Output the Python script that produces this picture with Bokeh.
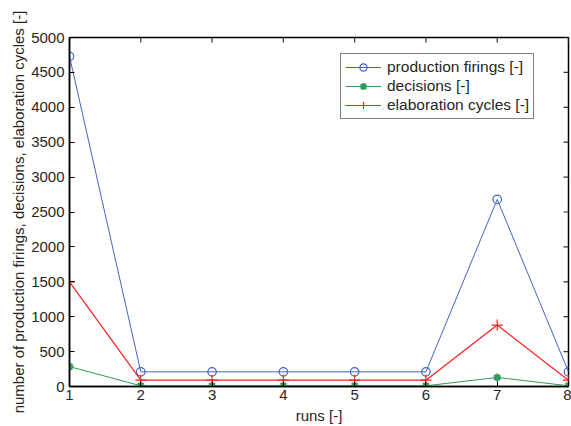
import math
from bokeh.plotting import figure
from bokeh.models import Range1d, Legend, LegendItem, FixedTicker
from bokeh.embed import file_html
from bokeh.resources import INLINE

runs = [1, 2, 3, 4, 5, 6, 7, 8]
production_firings = [4730, 210, 210, 210, 210, 210, 2680, 210]
decisions = [285, 10, 10, 10, 10, 10, 130, 10]
elaboration_cycles = [1500, 90, 90, 90, 90, 90, 880, 90]
y_ticks = [0, 500, 1000, 1500, 2000, 2500, 3000, 3500, 4000, 4500, 5000]

FONT = "Liberation Sans"
X_MIN, X_MAX = runs[0], runs[-1]
Y_MIN, Y_MAX = y_ticks[0], y_ticks[-1]

p = figure(width=571, height=426, output_backend="svg", toolbar_location=None,
           x_range=Range1d(X_MIN, X_MAX), y_range=Range1d(Y_MIN, Y_MAX),
           min_border_left=69, min_border_right=3, min_border_top=37, min_border_bottom=39)
p.grid.visible = False
p.outline_line_color = "black"
p.outline_line_width = 1.5
p.background_fill_color = "white"
p.border_fill_color = "white"

for ax in p.axis:
    ax.major_tick_in = 5
    ax.major_tick_out = 0
    ax.minor_tick_line_color = None
    ax.major_label_text_font = FONT
    ax.major_label_text_font_size = "15px"
    ax.major_label_text_color = "#262626"
    ax.axis_label_text_font = FONT
    ax.axis_label_text_font_size = "15px"
    ax.axis_label_text_font_style = "normal"
    ax.axis_label_text_color = "#262626"
    ax.axis_line_color = "black"
    ax.axis_line_width = 1.5

p.xaxis.ticker = FixedTicker(ticks=runs)
p.yaxis.ticker = FixedTicker(ticks=y_ticks)
p.xaxis.axis_label = "runs [-]"
p.yaxis.axis_label = "number of production firings, decisions, elaboration cycles [-]"
p.xaxis.major_label_standoff = 3
p.yaxis.major_label_standoff = 5
p.xaxis.axis_label_standoff = 4
p.yaxis.axis_label_standoff = 1

# inward ticks on the right and top frame edges (Matlab box style)
p.scatter([X_MAX] * len(y_ticks), y_ticks, marker="dash", size=10, line_color="#333333", line_width=1.2)
p.scatter(runs, [Y_MAX] * len(runs), marker="dash", angle=math.pi / 2, size=10,
          line_color="#333333", line_width=1.2)

blue = "#4264c2"
green = "#2f9a5a"
red = "#ff1f1f"

l1 = p.line(runs, production_firings, line_color=blue, line_width=1)
m1 = p.scatter(runs, production_firings, marker="circle", size=8.5, fill_color=None,
               line_color=blue, line_width=1.2)
l2 = p.line(runs, decisions, line_color=green, line_width=1)
m2 = p.scatter(runs, decisions, marker="asterisk", size=8, line_color=green, line_width=2)
l3 = p.line(runs, elaboration_cycles, line_color=red, line_width=1.2)
m3 = p.scatter(runs, elaboration_cycles, marker="cross", size=11, line_color=red, line_width=1.2)

legend = Legend(items=[
    LegendItem(label="production firings [-]", renderers=[l1, m1]),
    LegendItem(label="decisions [-]", renderers=[l2, m2]),
    LegendItem(label="elaboration cycles [-]", renderers=[l3, m3]),
], location=(271, 267))
legend.label_text_font = FONT
legend.label_text_font_size = "15.5px"
legend.label_text_color = "#262626"
legend.border_line_color = "black"
legend.border_line_width = 1
legend.glyph_width = 36
legend.glyph_height = 18
legend.label_height = 18
legend.spacing = 1
legend.padding = 4
legend.margin = 0
legend.label_standoff = 6
legend.background_fill_alpha = 1
p.add_layout(legend)

open("out.html", "w").write(file_html(p, INLINE))
